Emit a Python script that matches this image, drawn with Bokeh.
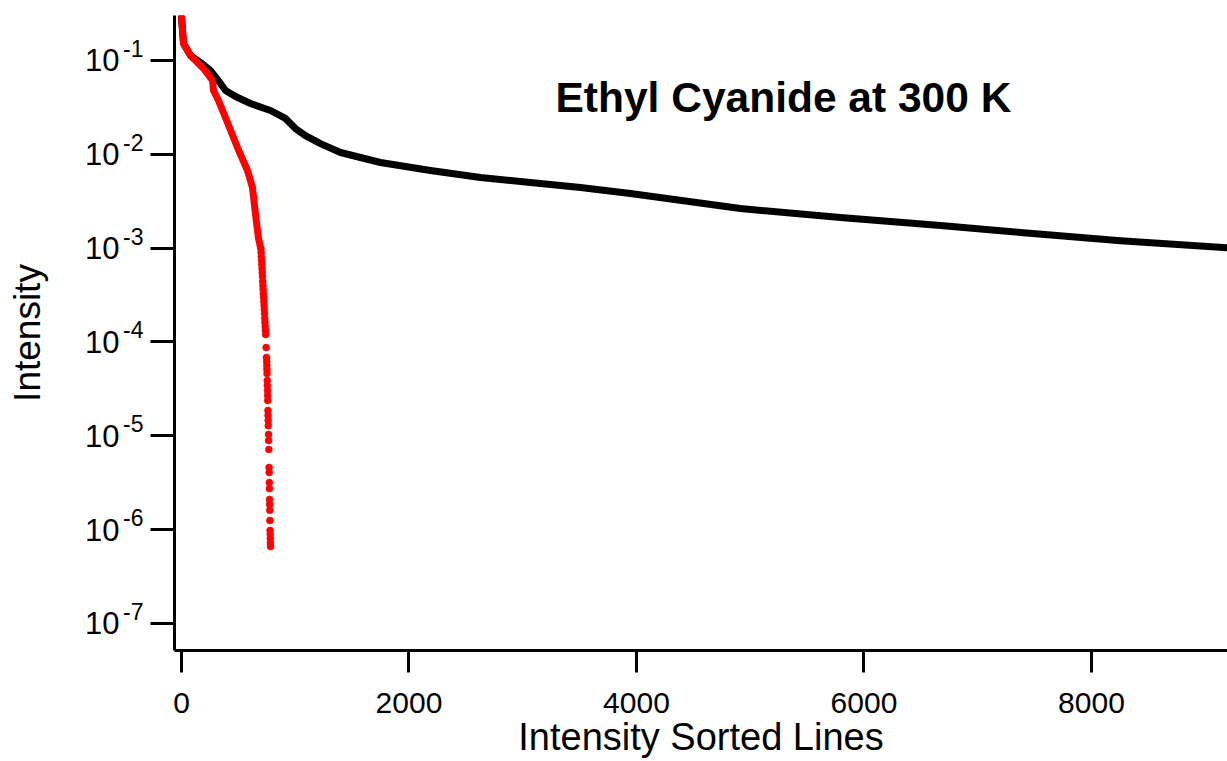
from bokeh.plotting import figure
from bokeh.models import FixedTicker, Label, LogAxis, Range1d, LogScale
from bokeh.embed import file_html
from bokeh.resources import INLINE

# Intensity-sorted line lists for ethyl cyanide at 300 K
# Black: full catalogue (index of sorted line, relative intensity)
black_x = [0, 18, 79, 167, 255, 343, 387, 475, 607, 782, 914, 1002, 1090, 1222,
           1398, 1749, 2189, 2629, 3068, 3508, 3947, 4914, 5793, 6673, 7376,
           8255, 9196]
black_y = [0.287, 0.152, 0.113, 0.0952, 0.0782, 0.0569, 0.0479, 0.0413, 0.0348,
           0.0293, 0.0241, 0.0188, 0.0158, 0.0130, 0.01045, 0.00818, 0.00672,
           0.00566, 0.00500, 0.00442, 0.00382, 0.00264, 0.00212, 0.00174,
           0.00147, 0.00120, 0.00101]

# Red: restricted line list, strong part (densely packed points)
red_x = [0, 18, 79, 193, 273, 281, 325, 404, 492, 580, 624, 642, 659, 677, 695]
red_y = [0.287, 0.152, 0.113, 0.0822, 0.0612, 0.0479, 0.0375, 0.0218, 0.0118,
         0.00672, 0.00442, 0.00284, 0.00188, 0.00127, 0.00101]

# Red: weak tail, individual lines
red_tail_x = [698, 700, 702, 704, 706, 708, 710, 712, 714, 716, 718, 720, 722,
              724, 726, 728, 730, 732, 734, 736, 738, 740, 744, 747, 749, 750,
              751, 752, 754, 755, 756, 757, 758, 760, 761, 762, 763, 765, 766,
              768, 770, 771, 772, 773, 774, 775, 776, 777, 779, 780, 781, 782, 783]
red_tail_y = [9.9e-4, 8.97e-4, 8.13e-4, 7.38e-4, 6.68e-4, 6.06e-4, 5.49e-4,
              4.98e-4, 4.41e-4, 3.99e-4, 3.62e-4, 3.28e-4, 2.97e-4, 2.70e-4,
              2.44e-4, 2.21e-4, 2.01e-4, 1.78e-4, 1.61e-4, 1.46e-4, 1.32e-4,
              1.20e-4, 8.71e-5, 6.82e-5, 6.18e-5, 5.60e-5, 5.08e-5, 4.60e-5,
              3.88e-5, 3.43e-5, 3.03e-5, 2.69e-5, 2.37e-5, 1.86e-5, 1.64e-5,
              1.45e-5, 1.28e-5, 1.03e-5, 8.89e-6, 7.13e-6, 4.58e-6, 4.05e-6,
              3.17e-6, 2.73e-6, 2.09e-6, 1.85e-6, 1.60e-6, 1.25e-6, 9.76e-7,
              8.85e-7, 8.01e-7, 7.27e-7, 6.59e-7]

x_ticks = [0, 2000, 4000, 6000, 8000]
y_ticks = [1e-1, 1e-2, 1e-3, 1e-4, 1e-5, 1e-6, 1e-7]
y_tick_exponents = ["-1", "-2", "-3", "-4", "-5", "-6", "-7"]

FONT = "Liberation Sans"
X_START, X_END = -61.5, 9196
Y_START, Y_END = 5.13e-8, 0.3018
# the exponent column sits a little above its tick (factor in data units)
EXP_RAISE = 1.343

p = figure(width=1227, height=761, y_axis_type="log",
           x_range=(X_START, X_END), y_range=(Y_START, Y_END),
           output_backend="svg", toolbar_location=None,
           min_border_left=174, min_border_right=0,
           min_border_top=15, min_border_bottom=111)
p.outline_line_color = None
p.xgrid.visible = False
p.ygrid.visible = False
p.background_fill_color = "white"
p.border_fill_color = "white"

p.line(black_x, black_y, line_color="black", line_width=7,
       line_join="round", line_cap="round")
p.line(red_x, red_y, line_color="#ff0000", line_width=7,
       line_join="round", line_cap="round")
p.scatter(red_tail_x, red_tail_y, size=7, fill_color="#ff0000",
          line_color="#ff0000", line_width=0.5)

# x axis
xa = p.xaxis[0]
xa.ticker = FixedTicker(ticks=x_ticks)
xa.minor_tick_line_color = None
xa.major_tick_out = 22
xa.major_tick_in = 0
xa.major_tick_line_width = 3
xa.axis_line_width = 3
xa.major_label_text_font = FONT
xa.major_label_text_font_size = "30px"
xa.major_label_text_color = "black"
xa.major_label_standoff = 20
xa.axis_label = "Intensity Sorted Lines"
xa.axis_label_text_font = FONT
xa.axis_label_text_font_size = "38px"
xa.axis_label_text_font_style = "normal"
xa.axis_label_text_color = "black"
xa.axis_label_standoff = 0

# y axis: line and tick marks only
ya = p.yaxis[0]
ya.ticker = FixedTicker(ticks=y_ticks)
ya.major_label_overrides = {t: "" for t in y_ticks}
ya.minor_tick_line_color = None
ya.major_tick_out = 24
ya.major_tick_in = 0
ya.major_tick_line_width = 3
ya.axis_line_width = 3
ya.major_label_standoff = 0

# exponent column, on a slightly raised copy of the y range
p.extra_y_ranges = {"exp": Range1d(Y_START / EXP_RAISE, Y_END / EXP_RAISE)}
p.extra_y_scales = {"exp": LogScale()}
ea = LogAxis(y_range_name="exp", ticker=FixedTicker(ticks=y_ticks))
ea.major_label_overrides = dict(zip(y_ticks, y_tick_exponents))
ea.axis_line_color = None
ea.major_tick_line_color = None
ea.minor_tick_line_color = None
ea.major_tick_out = 0
ea.major_tick_in = 0
ea.major_label_standoff = 7
ea.major_label_text_font = FONT
ea.major_label_text_font_size = "23px"
ea.major_label_text_color = "black"
p.add_layout(ea, "left")

# mantissa column "10" and the axis title
ma = LogAxis(ticker=FixedTicker(ticks=y_ticks))
ma.major_label_overrides = {t: "10" for t in y_ticks}
ma.axis_line_color = None
ma.major_tick_line_color = None
ma.minor_tick_line_color = None
ma.major_tick_out = 0
ma.major_tick_in = 0
ma.major_label_standoff = 1
ma.major_label_text_font = FONT
ma.major_label_text_font_size = "31px"
ma.major_label_text_color = "black"
ma.axis_label = "Intensity"
ma.axis_label_text_font = FONT
ma.axis_label_text_font_size = "37px"
ma.axis_label_text_font_style = "normal"
ma.axis_label_text_color = "black"
ma.axis_label_standoff = 34
p.add_layout(ma, "left")

p.add_layout(Label(x=3288, y=0.0404, text="Ethyl Cyanide at 300 K",
                   text_font=FONT, text_font_size="42.5px",
                   text_font_style="bold", text_color="black",
                   text_align="left", text_baseline="alphabetic"))

open("out.html", "w").write(file_html(p, INLINE))
